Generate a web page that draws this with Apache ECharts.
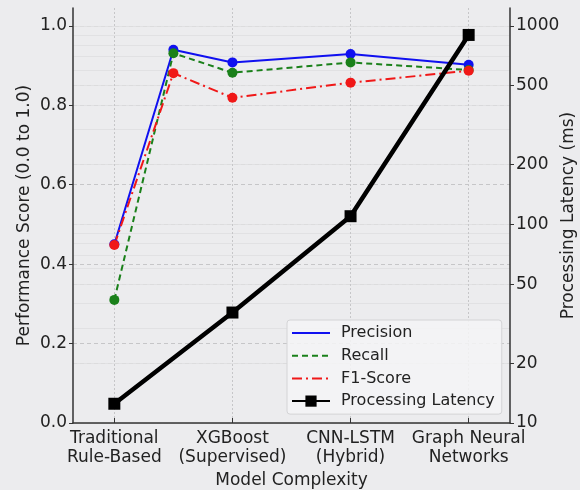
<!DOCTYPE html>
<html>
<head>
  <meta charset="UTF-8">
  <style>
    html, body { margin: 0; padding: 0; background: #ececee; }
    #chart { width: 580px; height: 490px; }
  </style>
</head>
<body>
<div id="chart"></div>
<script src="https://cdn.jsdelivr.net/npm/echarts@6/dist/echarts.min.js"></script>
<script type="text/javascript">
  // model names on the x axis (at x = 0, 1, 2, 3)
  var categories = ['Traditional\nRule-Based', 'XGBoost\n(Supervised)', 'CNN-LSTM\n(Hybrid)', 'Graph Neural\nNetworks'];
  var categoryX = [0, 1, 2, 3];
  // performance series are sampled at five x positions
  var perfX = [0, 0.5, 1, 2, 3];
  var precision = [0.45, 0.94, 0.908, 0.929, 0.902];
  var recall = [0.31, 0.931, 0.882, 0.908, 0.889];
  var f1Score = [0.448, 0.881, 0.819, 0.857, 0.887];
  var latency = [12.5, 36, 110, 900];
  var leftTicks = [0, 0.2, 0.4, 0.6, 0.8, 1.0];
  var rightTicks = [10, 20, 50, 100, 200, 500, 1000];
  var rightMinor = [10, 20, 30, 40, 50, 60, 70, 80, 90, 100, 200, 300, 400, 500, 600, 700, 800, 900, 1000];

  function pairs(xs, ys) {
    return ys.map(function (v, i) { return [xs[i], v]; });
  }

  var font = 'DejaVu Sans';
  var myChart = echarts.init(document.getElementById('chart'));
  var option = {
    backgroundColor: '#ececee',
    textStyle: { fontFamily: font },
    animation: false,
    grid: { left: 73, right: 70, top: 8, bottom: 67, outerBoundsMode: 'none' },
    legend: {
      orient: 'vertical',
      left: 287,
      top: 320,
      padding: [5, 7, 5, 4],
      itemWidth: 38,
      itemHeight: 14,
      itemGap: 6.7,
      backgroundColor: 'rgba(244,244,246,0.85)',
      borderColor: '#d4d4d6',
      borderWidth: 1,
      borderRadius: 3,
      textStyle: { fontFamily: font, fontSize: 16, color: '#222', padding: [0, 0, 0, 6] },
      data: [
        { name: 'Precision', itemStyle: { opacity: 0 } },
        { name: 'Recall', itemStyle: { opacity: 0 } },
        { name: 'F1-Score', itemStyle: { opacity: 0 } },
        { name: 'Processing Latency' }
      ]
    },
    xAxis: {
      type: 'value',
      min: -0.35,
      max: 3.35,
      name: 'Model Complexity',
      nameLocation: 'middle',
      nameGap: 49,
      nameMoveOverlap: false,
      nameTextStyle: { fontFamily: font, fontSize: 17, color: '#222' },
      axisLine: { onZero: false, lineStyle: { color: '#333', width: 1.5 } },
      axisTick: { inside: true, length: 5, customValues: categoryX, lineStyle: { color: '#333' } },
      axisLabel: {
        customValues: categoryX,
        fontFamily: font, fontSize: 17, color: '#222', margin: 6, lineHeight: 19,
        formatter: function (v) { return categories[Math.round(v)]; }
      },
      splitLine: { show: true, lineStyle: { color: '#c6c6c8', type: [2, 2], width: 1 } }
    },
    yAxis: [
      {
        type: 'value',
        min: 0,
        max: 1.045,
        name: 'Performance Score (0.0 to 1.0)',
        nameLocation: 'middle',
        nameGap: 40,
        nameMoveOverlap: false,
        nameTextStyle: { fontFamily: font, fontSize: 17, color: '#222' },
        axisLine: { show: true, onZero: false, lineStyle: { color: '#333', width: 1.5 } },
        axisTick: { show: true, length: 4, customValues: leftTicks, lineStyle: { color: '#333' } },
        axisLabel: {
          customValues: leftTicks,
          fontFamily: font, fontSize: 17, color: '#222', margin: 6,
          formatter: function (v) { return v.toFixed(1); }
        },
        splitLine: { show: true, lineStyle: { color: '#c6c6c8', type: [4, 3], width: 1 } }
      },
      {
        type: 'log',
        logBase: 10,
        min: 10,
        max: 1230,
        position: 'right',
        name: 'Processing Latency (ms)',
        nameLocation: 'middle',
        nameGap: 50,
        nameMoveOverlap: false,
        nameTextStyle: { fontFamily: font, fontSize: 17, color: '#222' },
        axisLine: { show: true, onZero: false, lineStyle: { color: '#333', width: 1.5 } },
        axisTick: { show: true, length: 4, customValues: rightTicks, lineStyle: { color: '#333' } },
        axisLabel: {
          customValues: rightTicks,
          fontFamily: font, fontSize: 17, color: '#222', margin: 6,
          formatter: function (v) { return String(Math.round(v)); }
        },
        splitLine: { show: true, lineStyle: { color: '#d2d2d4', type: [4, 3], width: 1 } }
      },
      {
        type: 'log',
        logBase: 10,
        min: 10,
        max: 1230,
        position: 'right',
        axisLine: { show: false },
        axisTick: { show: false, customValues: rightMinor },
        axisLabel: { show: false, customValues: rightMinor },
        splitLine: { show: true, lineStyle: { color: '#dedee0', width: 0.8 } }
      }
    ],
    series: [
      {
        name: 'Precision', type: 'line', yAxisIndex: 0,
        data: pairs(perfX, precision),
        symbol: 'circle', symbolSize: 10,
        lineStyle: { color: '#1010f0', width: 2 },
        itemStyle: { color: '#1010f0' }
      },
      {
        name: 'Recall', type: 'line', yAxisIndex: 0,
        data: pairs(perfX, recall),
        symbol: 'circle', symbolSize: 10,
        lineStyle: { color: '#1a801a', width: 2, type: [6, 4] },
        itemStyle: { color: '#1a801a' }
      },
      {
        name: 'F1-Score', type: 'line', yAxisIndex: 0,
        data: pairs(perfX, f1Score),
        symbol: 'circle', symbolSize: 10,
        lineStyle: { color: '#f01818', width: 2, type: [10, 4, 2, 4] },
        itemStyle: { color: '#f01818' }
      },
      {
        name: 'Processing Latency', type: 'line', yAxisIndex: 1,
        data: pairs(categoryX, latency),
        symbol: 'rect', symbolSize: 12,
        lineStyle: { color: '#000', width: 4.5 },
        itemStyle: { color: '#000' },
        z: 3
      }
    ]
  };
  myChart.setOption(option);
</script>
</body>
</html>
